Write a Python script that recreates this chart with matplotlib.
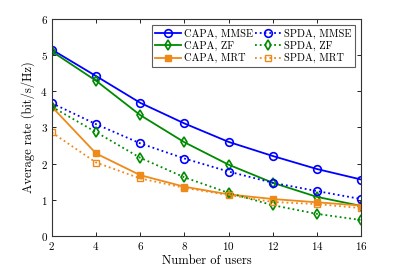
import matplotlib
matplotlib.use("Agg")
import matplotlib.pyplot as plt

users = [2, 4, 6, 8, 10, 12, 14, 16]
capa_mmse = [5.15, 4.42, 3.68, 3.11, 2.60, 2.21, 1.85, 1.56]
capa_zf = [5.10, 4.29, 3.34, 2.59, 1.97, 1.47, 1.08, 0.83]
capa_mrt = [3.57, 2.28, 1.68, 1.36, 1.15, 1.02, 0.93, 0.84]
spda_mmse = [3.67, 3.09, 2.56, 2.14, 1.78, 1.47, 1.24, 1.02]
spda_zf = [3.57, 2.87, 2.16, 1.62, 1.19, 0.85, 0.61, 0.44]
spda_mrt = [2.86, 2.03, 1.59, 1.33, 1.13, 0.94, 0.88, 0.77]
xticks = [2, 4, 6, 8, 10, 12, 14, 16]
yticks = [0, 1, 2, 3, 4, 5, 6]

plt.rcParams['font.family'] = ['cmr10', 'DejaVu Serif']
plt.rcParams['axes.formatter.use_mathtext'] = True
plt.rcParams['font.size'] = 8

blue = '#0000FF'
green = '#008A00'
orange = '#EE8A1A'

fig = plt.figure(figsize=(3.99, 2.66), dpi=100)
ax = fig.add_axes([0.130, 0.113, 0.775, 0.816])

ax.plot(users, capa_mmse, '-', color=blue, lw=1.3, marker='o', ms=5.5, mfc='none', mew=1.2, label='CAPA, MMSE')
ax.plot(users, capa_zf, '-', color=green, lw=1.3, marker='d', ms=5.5, mfc='none', mew=1.2, label='CAPA, ZF')
ax.plot(users, capa_mrt, '-', color=orange, lw=1.3, marker='s', ms=3.8, mfc=orange, mew=1.0, label='CAPA, MRT')
ax.plot(users, spda_mmse, ':', color=blue, lw=1.3, marker='o', ms=5.5, mfc='none', mew=1.2, label='SPDA, MMSE')
ax.plot(users, spda_zf, ':', color=green, lw=1.3, marker='d', ms=5.5, mfc='none', mew=1.2, label='SPDA, ZF')
ax.plot(users, spda_mrt, ':', color=orange, lw=1.3, marker='s', ms=3.8, mfc='none', mew=1.0, label='SPDA, MRT')

ax.set_xlim(2, 16)
ax.set_ylim(0, 6)
ax.set_xticks(xticks)
ax.set_yticks(yticks)
ax.tick_params(direction='in', top=True, right=True, length=3, width=0.6, labelsize=8, pad=3)
for s in ax.spines.values():
    s.set_linewidth(0.8)
    s.set_color('#333333')
ax.set_xlabel('Number of users', fontsize=9, labelpad=2)
ax.set_ylabel('Average rate (bit/s/Hz)', fontsize=9, labelpad=4)

leg = ax.legend(ncol=2, loc='upper right', fontsize=7.5, frameon=True, fancybox=False,
                edgecolor='#333333', borderpad=0.35, labelspacing=0.2, handlelength=2.5,
                handletextpad=0.25, columnspacing=0.2, borderaxespad=0.6)
leg.get_frame().set_linewidth(0.8)

fig.savefig('out.png', dpi=100)
